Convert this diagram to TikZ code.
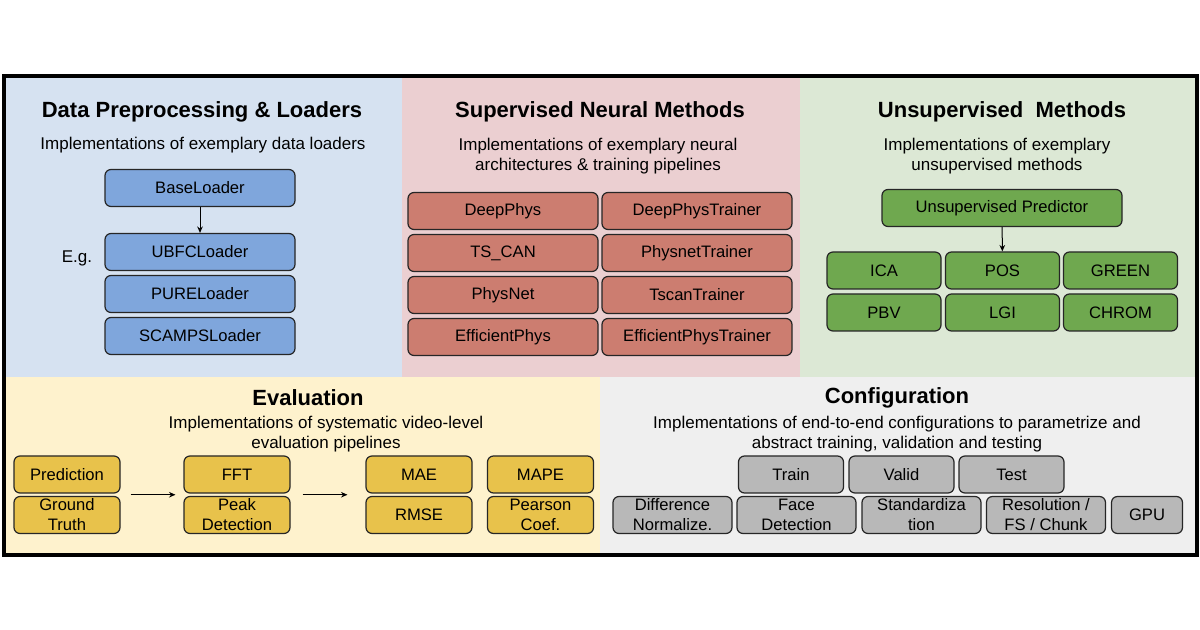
\documentclass[tikz,border=0pt]{standalone}
\usepackage{fontspec}
\setmainfont{Liberation Sans}
\usepackage{xcolor}
\usetikzlibrary{calc,arrows.meta}

\definecolor{bluebg}{HTML}{D6E2F1}
\definecolor{redbg}{HTML}{EBCFD1}
\definecolor{greenbg}{HTML}{DCE8D5}
\definecolor{yellowbg}{HTML}{FEF2CD}
\definecolor{graybg}{HTML}{EFEFEF}
\definecolor{bluefill}{HTML}{7FA6DC}
\definecolor{redfill}{HTML}{CC7D70}
\definecolor{greenfill}{HTML}{6FA84F}
\definecolor{yellowfill}{HTML}{E8C24B}
\definecolor{grayfill}{HTML}{B8B8B8}

\tikzset{
  box/.style={draw=black!85, line width=0.6pt, rounded corners=3pt, minimum height=18.5pt,
    inner sep=0pt, align=center, font=\fontsize{8.3}{10}\selectfont},
  bluebox/.style={box, fill=bluefill, minimum width=95pt},
  redbox/.style={box, fill=redfill, minimum width=95pt},
  greenbox/.style={box, fill=greenfill, minimum width=57pt},
  yellowbox/.style={box, fill=yellowfill, minimum width=53pt},
  graybox/.style={box, fill=grayfill, minimum width=59.5pt},
  head/.style={font=\fontsize{11}{13}\selectfont\bfseries, inner sep=0pt},
  sub/.style={font=\fontsize{8.5}{10}\selectfont, align=center, inner sep=0pt},
  arr/.style={-{Stealth[length=3.2pt,width=2.8pt]}, line width=0.5pt}
}

\begin{document}
\begin{tikzpicture}[x=0.5pt,y=-0.5pt]
                \useasboundingbox (0,0) rectangle (1200,630);
                % panels
                \fill[bluebg] (4,76) rectangle (402,377);
                \fill[redbg] (402,76) rectangle (800,377);
                \fill[greenbg] (800,76) rectangle (1197,377);
                \fill[yellowbg] (4,377) rectangle (600,555);
                \fill[graybg] (600,377) rectangle (1197,555);
                \draw[line width=2pt] (4,76) rectangle (1197,555);

                % data loaders
                \node[head] (dataT) at (202,112) {Data Preprocessing \& Loaders};
                \node[sub] (dataS) at (203,145) {Implementations of exemplary data loaders};
                \node[bluebox] (base) at (200,188) {BaseLoader};
                \foreach \name/\lbl [count=\j from 0] in {ubfc/UBFCLoader, pure/PURELoader, scamps/SCAMPSLoader} {
                    \node[bluebox] (\name) at (200,{252+42*\j}) {\lbl};
                }
                \node[sub] (eg) at (77,258) {E.g.};
                \draw[arr] (base) -- (ubfc);

                % supervised
                \node[head] (supT) at (600,112) {Supervised Neural Methods};
                \node[sub] (supS) at (598,156) {Implementations of exemplary neural\\architectures \& training pipelines};
                \foreach \net/\trainer [count=\j from 0] in {DeepPhys/DeepPhysTrainer, TS\_CAN/PhysnetTrainer, PhysNet/TscanTrainer, EfficientPhys/EfficientPhysTrainer} {
                    \node[redbox] (net\j) at (503,{211+42*\j}) {\net};
                    \node[redbox] (trn\j) at (697,{211+42*\j}) {\trainer};
                }

                % unsupervised
                \node[head] (unsT) at (1002,112) {Unsupervised\ \ Methods};
                \node[sub] (unsS) at (997,156) {Implementations of exemplary\\unsupervised methods};
                \node[greenbox, minimum width=120pt] (pred) at (1002,208) {Unsupervised Predictor};
                \foreach \lbl/\x [count=\j] in {ICA/884, POS/1002.5, GREEN/1120.5} {
                    \node[greenbox] (u\j) at (\x,270.5) {\lbl};
                }
                \foreach \lbl/\x [count=\j] in {PBV/884, LGI/1002.5, CHROM/1120.5} {
                    \node[greenbox] (v\j) at (\x,312.5) {\lbl};
                }
                \draw[arr] (pred) -- (u2);

                % evaluation
                \node[head] (evalT) at (308,398) {Evaluation};
                \node[sub] (evalS) at (326,434) {Implementations of systematic video-level\\evaluation pipelines};
                \foreach \top/\bot/\x [count=\j] in {Prediction/{Ground\\Truth}/67, FFT/{Peak\\Detection}/237, MAE/RMSE/419, MAPE/{Pearson\\Coef.}/540.5} {
                    \node[yellowbox] (ea\j) at (\x,474.5) {\top};
                    \node[yellowbox] (eb\j) at (\x,515) {\bot};
                }
                \draw[arr, shorten <=5pt, shorten >=4pt] ($(ea1.south east)!.5!(eb1.north east)$) -- ($(ea2.south west)!.5!(eb2.north west)$);
                \draw[arr, shorten <=6pt, shorten >=9pt] ($(ea2.south east)!.5!(eb2.north east)$) -- ($(ea3.south west)!.5!(eb3.north west)$);

                % configuration
                \node[head] (confT) at (897,398) {Configuration};
                \node[sub] (confS) at (897,434) {Implementations of end-to-end configurations to parametrize and\\abstract training, validation and testing};
                \foreach \lbl/\x [count=\j] in {Train/791, Valid/901.5, Test/1011.5} {
                    \node[graybox, minimum width=52.5pt] (c\j) at (\x,474.5) {\lbl};
                }
                \foreach \lbl/\x [count=\j] in {{Difference\\Normalize.}/672.5, {Face\\Detection}/796.5, {Standardiza\\tion}/921.5, {Resolution /\\FS / Chunk}/1046} {
                    \node[graybox] (d\j) at (\x,515) {\lbl};
                }
                \node[graybox, minimum width=35.5pt] (gpu) at (1147,515) {GPU};
\end{tikzpicture}
\end{document}
